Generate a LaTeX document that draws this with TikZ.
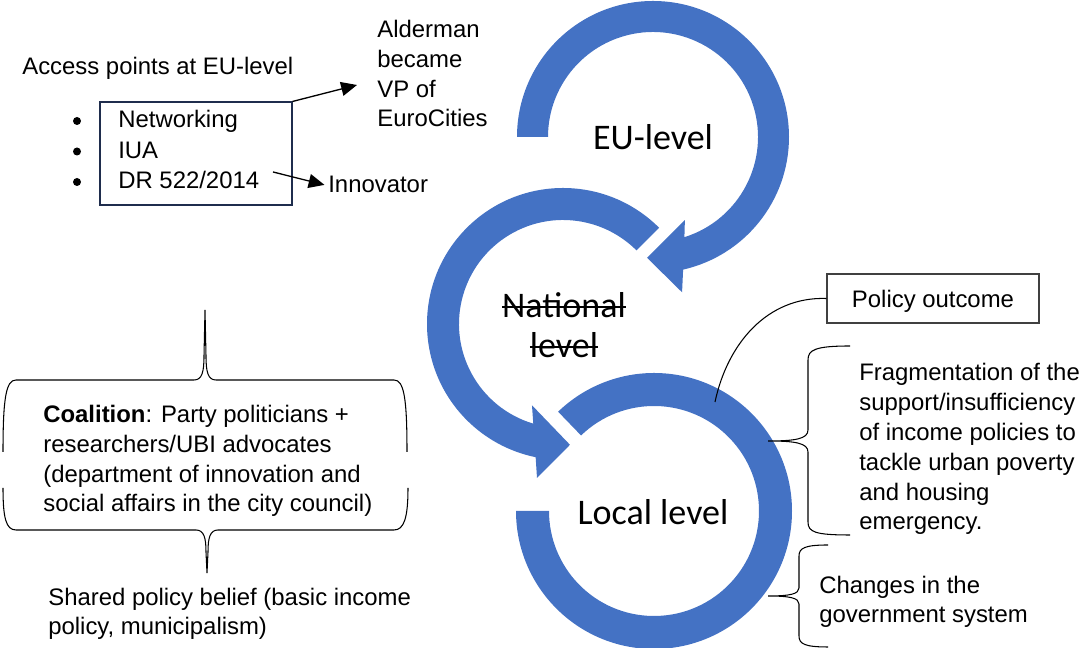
\documentclass[tikz,border=0pt]{standalone}
\usepackage{fontspec}
\setmainfont{Liberation Sans}
\newfontfamily\levelfont{Carlito}
\usetikzlibrary{arrows.meta}

\definecolor{ringblue}{HTML}{4472C4}
\definecolor{boxnavy}{HTML}{1F2D4D}
\definecolor{boxgray}{HTML}{404040}

% struck-through word
\newsavebox\crossbox
\newcommand\crossout[1]{\sbox\crossbox{#1}\rlap{\rule[5.5pt]{\wd\crossbox}{1.1pt}}\usebox\crossbox}

\tikzset{
    ring/.style={fill=ringblue},
    textblock/.style={inner sep=0pt, align=left, font=\fontsize{13.6}{17}\selectfont},
    levelname/.style={inner sep=0pt, align=center, font=\levelfont\fontsize{20.5}{22.7}\selectfont},
    brace/.style={line width=0.6pt},
    pointer/.style={-{Triangle[length=9pt,width=8pt]}, line width=0.75pt},
}

\begin{document}
\begin{tikzpicture}[x=0.02cm, y=0.02cm]
    % --- Configuration ---
    \def\rOut{136}   % outer radius of the rings
    \def\rIn{105}    % inner radius of the rings
    \coordinate (eu)  at (653,511);
    \coordinate (nat) at (563,324);
    \coordinate (loc) at (654,137);

    \useasboundingbox (0,0) rectangle (1083,648);

    % --- Rings ---
    % EU-level: clockwise from the left, arrow head onto the national ring
    \begin{scope}[shift={(eu)}]
        \fill[ring] (180:\rOut) arc[start angle=180, end angle=-77.2, radius=\rOut]
            -- (-79.4:158) -- (-92.8:121) -- (-69:89) -- (-72.6:\rIn)
            arc[start angle=-72.6, end angle=180, radius=\rIn] -- cycle;
    \end{scope}

    % National level: anticlockwise, arrow head onto the local ring
    \begin{scope}[shift={(nat)}]
        \fill[ring] (45:\rOut) arc[start angle=45, end angle=258.4, radius=\rOut]
            -- (260.4:156) -- (273.3:121) -- (249.1:87) -- (253.4:104)
            arc[start angle=253.4, end angle=45, radius=104] -- cycle;
    \end{scope}

    % Local level: plain band, no head
    \begin{scope}[shift={(loc)}]
        \fill[ring] (180:138) arc[start angle=180, end angle=494, radius=138]
            -- (494:\rIn) arc[start angle=494, end angle=180, radius=\rIn] -- cycle;
    \end{scope}

    \node[levelname] (eulevel) at (eu) {EU-level};
    \node[levelname] (natlevel) at (564,323) {\crossout{National}\\\crossout{level}};
    \node[levelname] (loclevel) at (653,136) {Local level};

    % --- Access points ---
    \node[textblock, anchor=base west] (accesstitle) at (22,573) {Access points at EU-level};
    \node[draw=boxnavy, line width=0.6pt, minimum width=3.84cm, minimum height=2.06cm,
          inner sep=0pt] (access) at (196,494.5) {};
    \foreach \entry [count=\i] in {Networking, IUA, {DR 522/2014}} {
        \fill (77, 557.5-30.5*\i) circle[radius=4];
        \node[textblock, anchor=base west] (item\i) at (118, 550.5-30.5*\i) {\entry};
    }

    % multi-line blocks sit on the baseline of their last line
    \node[textblock, anchor=base west] (alderman) at (377,521) {Alderman\\became\\VP of\\EuroCities};
    \node[textblock, anchor=base west] (innovator) at (328,455) {Innovator};

    \coordinate (aldtip) at (357,563);
    \coordinate (drtail) at (273,476);
    \draw[pointer] (access.north east) -- (aldtip);
    \draw[pointer] (drtail) -- ([xshift=-2]innovator.west);

    % --- Coalition and shared belief ---
    \node[textblock, anchor=base west] (coalition) at (43,136)
        {\textbf{Coalition}: Party politicians +\\researchers/UBI advocates\\(department of innovation and\\social affairs in the city council)};
    \node[textblock, anchor=base west] (belief) at (48,13)
        {Shared policy belief (basic income\\policy, municipalism)};

    % upper brace, tip pointing up
    \draw[brace] (3,196) .. controls (3,250) and (6,268) .. (16,268) -- (194,268)
        .. controls (202,268) and (204,276) .. (204,292) -- (205,338) -- (206,292)
        .. controls (206,276) and (208,268) .. (216,268) -- (394,268)
        .. controls (404,268) and (407,250) .. (407,196);
    % lower brace, tip pointing down
    \draw[brace] (3,160) .. controls (3,130) and (6,118) .. (16,118) -- (196,118)
        .. controls (204,118) and (206,110) .. (206,96) -- (207,75) -- (208,96)
        .. controls (208,110) and (210,118) .. (218,118) -- (394,118)
        .. controls (404,118) and (408,130) .. (408,160);

    % --- Policy outcome ---
    \node[draw=boxgray, line width=0.6pt, minimum width=4.24cm, minimum height=0.98cm,
          inner sep=0pt, text depth=0pt, font=\fontsize{13.6}{17}\selectfont] (outcome) at (933,349.5) {Policy outcome};
    \coordinate (outcomefoot) at (715,246);
    \draw[line width=0.6pt] (outcome.west) to[out=178, in=78] (outcomefoot);

    \node[textblock, anchor=base west] (fragment) at (859,118)
        {Fragmentation of the\\support/insufficiency\\of income policies to\\tackle urban poverty\\and housing\\emergency.};
    \node[textblock, anchor=base west] (changes) at (819,25)
        {Changes in the\\government system};

    % right-hand braces
    \draw[brace] (850,302) .. controls (815,302) and (808,298) .. (808,288) -- (808,218)
        .. controls (808,209) and (795,207) .. (768,207)
        .. controls (795,207) and (808,205) .. (808,196) -- (808,126)
        .. controls (808,116) and (815,113) .. (850,113);
    \draw[brace] (828,103) .. controls (805,103) and (799,100) .. (799,92) -- (799,60)
        .. controls (799,54) and (790,52) .. (768,52)
        .. controls (790,52) and (799,50) .. (799,44) -- (799,12)
        .. controls (799,4) and (805,1) .. (828,1);
\end{tikzpicture}
\end{document}
